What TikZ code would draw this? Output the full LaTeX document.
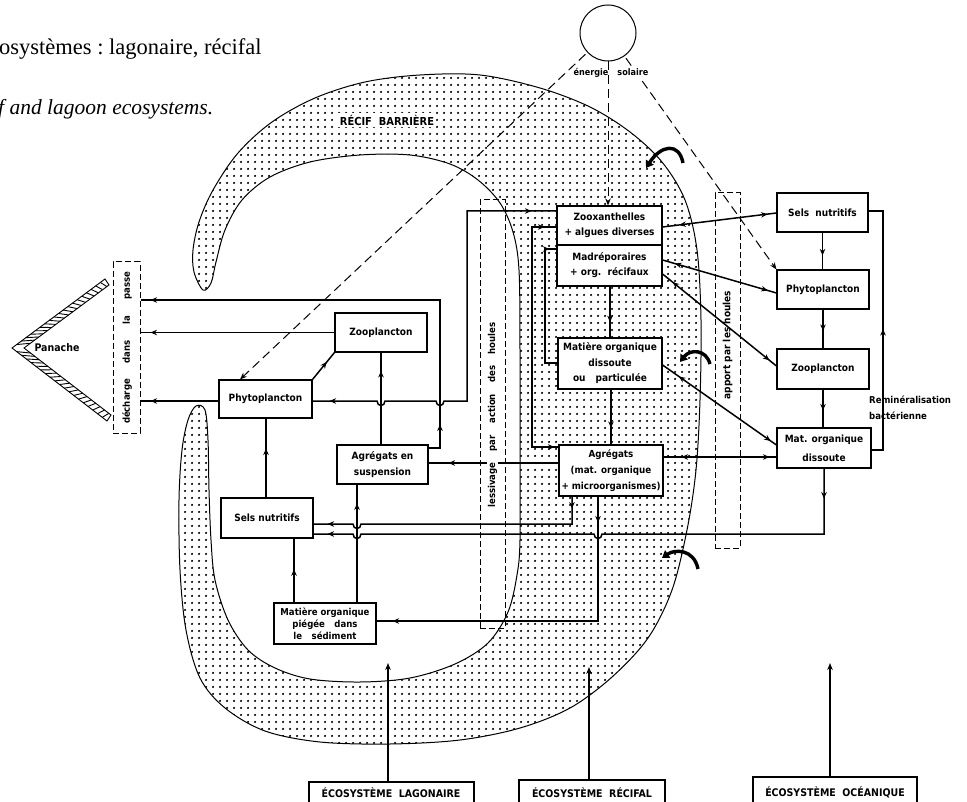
\documentclass[tikz,border=0pt]{standalone}
\usepackage{fontspec}
\newfontfamily\lab{DejaVu Sans Condensed}
\newfontfamily\ser{Liberation Serif}
\usetikzlibrary{arrows.meta,patterns.meta,decorations.markings,calc}
\tikzdeclarepattern{
  name=reefdots,
  type=uncolored,
  bottom left={(0pt,0pt)},
  top right={(7pt,7pt)},
  tile size={(7pt,7pt)},
  code={\fill (3.5pt,3.5pt) circle (1.3pt);}
}
\tikzset{
  box/.style={draw, line width=1.1pt, fill=white, inner sep=1pt, align=center,
    font=\lab\bfseries\fontsize{10}{15}\selectfont},
  ln/.style={line width=1.5pt},
  sundash/.style={line width=1pt, dash pattern=on 9pt off 5pt},
  dbox/.style={draw, line width=1pt, dash pattern=on 6pt off 3pt},
  fwd/.style={postaction={decorate, decoration={markings,
    mark=at position #1 with {\arrow{Stealth[length=6.5pt,width=5.5pt]}}}}},
  bwd/.style={postaction={decorate, decoration={markings,
    mark=at position #1 with {\arrowreversed{Stealth[length=6.5pt,width=5.5pt]}}}}},
  lbl/.style={font=\lab\bfseries\fontsize{9.5}{11}\selectfont},
  eco/.style={font=\lab\bfseries\fontsize{10.5}{12}\selectfont, inner sep=1pt},
  swell/.style={line width=3.4pt, -{Triangle[length=7pt,width=9pt]}},
  upar/.style={ln, -{Stealth[length=7pt,width=5.5pt]}}
}
\begin{document}
\begin{tikzpicture}[x=1pt,y=-1pt]
\useasboundingbox (0,0) rectangle (967,802);

% ---------- reef band ----------
\path[pattern=reefdots, draw, line width=1pt] plot[smooth cycle, tension=0.55] coordinates {
 (203,290) (194,272) (193,250) (199,222) (213,190) (238,153) (272,122) (315,98)
 (365,82) (420,75) (480,75) (540,88) (590,107) (630,132) (662,162) (685,200)
 (697,250) (701,320) (700,400) (696,470) (687,530) (672,590) (648,638) (612,677)
 (570,708) (520,728) (460,740) (390,744) (320,742) (265,731) (225,708) (200,678)
 (186,630) (180,570) (179,500) (182,450) (188,420) (196,406)
 (205,410) (208,440) (209,490) (211,540) (215,580) (228,620) (248,650) (275,668)
 (310,679) (360,682) (410,678) (455,664) (488,643) (508,612) (517,575) (520,540)
 (520,450) (520,350) (519,270) (513,232) (500,203) (478,180) (450,164) (410,155)
 (360,155) (310,162) (270,177) (242,200) (225,230) (216,262) (211,283)};
\node[lbl, fill=white, inner sep=2pt, font=\lab\bfseries\fontsize{11}{12}\selectfont] (rb) at (387,120) {RÉCIF\ \ BARRIÈRE};

% ---------- top text ----------
\node[anchor=base west, inner sep=0, font=\ser\fontsize{22.5}{26}\selectfont] (t1) at (-1,55) {osystèmes :\ lagonaire,\ récifal};
\node[anchor=base west, inner sep=0, font=\ser\itshape\fontsize{21.5}{24}\selectfont] (t2) at (-2,115) {f and lagoon ecosystems.};

% ---------- sun ----------
\node[circle, draw, line width=1pt, minimum size=56pt, inner sep=0] (sun) at (608,33) {};

% ---------- boxes ----------
\node[box, minimum width=92pt, minimum height=39pt] (zl) at (381,332.5) {Zooplancton};
\node[box, minimum width=93pt, minimum height=38pt] (pl) at (265.5,399) {Phytoplancton};
\node[box, minimum width=91pt, minimum height=39pt, font=\lab\bfseries\fontsize{10}{16}\selectfont] (al) at (382.5,464.5) {Agrégats en\\suspension};
\node[box, minimum width=92pt, minimum height=40pt] (sl) at (267,518) {Sels nutritifs};
\node[box, minimum width=102pt, minimum height=41pt, font=\lab\bfseries\fontsize{9.5}{12}\selectfont] (ml) at (325,623.5) {Matière organique\\piégée\quad dans\\le\quad sédiment};
\node[box, minimum width=105pt, minimum height=39pt] (zx) at (609.5,225.5) {Zooxanthelles\\+ algues diverses};
\node[box, minimum width=105pt, minimum height=41pt] (md) at (609.5,265.5) {Madréporaires\\+ org.\ \ récifaux};
\node[box, minimum width=104pt, minimum height=51pt, font=\lab\bfseries\fontsize{10}{15.5}\selectfont] (mo) at (610,363.5) {Matière organique\\dissoute\\ou\quad particulée};
\node[box, minimum width=104pt, minimum height=51pt, font=\lab\bfseries\fontsize{9.7}{16}\selectfont] (ag) at (611,470.5) {Agrégats\\(mat. organique\\+ microorganismes)};
\node[box, minimum width=91pt, minimum height=39pt] (so) at (822.5,212.5) {Sels\ \ nutritifs};
\node[box, minimum width=92pt, minimum height=39pt] (po) at (823,289.5) {Phytoplancton};
\node[box, minimum width=92pt, minimum height=40pt] (zo) at (823,369) {Zooplancton};
\node[box, minimum width=94pt, minimum height=40pt, font=\lab\bfseries\fontsize{10}{19}\selectfont] (mo2) at (824,448) {Mat. organique\\dissoute};

% ---------- dashed boxes ----------
\node[dbox, minimum width=27pt, minimum height=171pt, inner sep=0] (dc) at (126.5,347.5) {};
\node[dbox, minimum width=25pt, minimum height=428pt, inner sep=0] (lv) at (492.5,414) {};
\node[dbox, minimum width=25pt, minimum height=355pt, inner sep=0] (ap) at (727.5,370.5) {};
\node[lbl, rotate=90] (dct) at (127,348) {\makebox[152pt][s]{décharge\hfill dans\hfill la\hfill passe}};
\node[lbl, rotate=90, font=\lab\bfseries\fontsize{10}{11}\selectfont] (apt) at (727.5,345) {apport\ par\ les\ houles};

% ---------- panache ----------
\coordinate (T) at (12,348);  \coordinate (O1) at (105,279); \coordinate (O2) at (107,421);
\coordinate (Ti) at (24,348); \coordinate (I1) at (109,285); \coordinate (I2) at (111,415);
\draw[line width=0.9pt] (O1) -- (T) -- (O2) -- (I2) -- (Ti) -- (I1) -- cycle;
\foreach \t in {0.05,0.1,...,0.96} {
  \draw[line width=0.9pt] ($(T)!\t!(O1)$) -- ($(Ti)!\t+0.025!(I1)$);
  \draw[line width=0.9pt] ($(T)!\t!(O2)$) -- ($(Ti)!\t+0.025!(I2)$);
}
\node[lbl, font=\lab\bfseries\fontsize{10.5}{11}\selectfont] (pn) at (57,348) {Panache};

% ---------- solar energy ----------
\draw[sundash, -{Stealth[length=7pt,width=5.5pt]}, shorten <=31pt] (sun.center) -- (pl.north -| 240,0);
\draw[sundash, -{Stealth[length=7pt,width=5.5pt]}, shorten <=31pt] (sun.center) -- (po.north west);
\node[lbl, fill=white, inner sep=1pt, font=\lab\bfseries\fontsize{9}{10}\selectfont] (es) at (611,73) {énergie\hspace{9pt}solaire};
\draw[sundash, -{Stealth[length=7pt,width=5.5pt]}] (sun.south) -- (sun.south |- zx.north);

% ---------- oceanic ecosystem ----------
\draw[ln, fwd=0.62] (so.south) -- (so.south |- po.north);
\draw[ln, fwd=0.55] (po.south) -- (po.south |- zo.north);
\draw[ln, fwd=0.55] (zo.south) -- (zo.south |- mo2.north);
\draw[ln, fwd=0.5] (mo2.east |- 0,450) -- (883,450) -- (883,211) -- (so.east |- 0,211);
\node[lbl, anchor=north west, align=left, font=\lab\bfseries\fontsize{9.5}{16}\selectfont, inner sep=0] (rem) at (869,396) {Reminéralisation\\bactérienne};

% ---------- reef <-> ocean exchanges ----------
\draw[ln, fwd=-9pt, bwd=17pt] (zx.east |- 0,227) -- (so.west |- 0,213);
\draw[ln, fwd=-9pt, bwd=13pt] (md.east |- 0,260) -- (po.west |- 0,293);
\draw[ln, fwd=-9pt, bwd=13pt] (md.east |- 0,274) -- (zo.west |- 0,366);
\draw[ln, fwd=-7pt, bwd=20pt] (mo.east |- 0,365) -- (mo2.west |- 0,445);
\draw[ln, fwd=-7pt, bwd=18pt] (ag.east |- 0,457) -- (mo2.west |- 0,457);

% ---------- reef internal ----------
\draw[ln, fwd=0.7] (md.south -| 610,0) -- (mo.north -| 610,0);
\draw[ln, fwd=0.7] (mo.south -| 611,0) -- (ag.north -| 611,0);
\draw[ln, bwd=12pt, fwd=-4pt] (zx.west |- 0,227) -- (532,227) -- (532,447) -- (ag.west |- 0,447);
\draw[ln, bwd=7pt] (md.west |- 0,249) -- (545,249) -- (545,363) -- (mo.west |- 0,363);

% reef -> lagoon
\draw[ln, bwd=25pt, fwd=-17pt] (zx.west |- 0,211) -- (467,211) -- (467,401) -- (444,401)
  .. controls (444,407) and (436,407) .. (436,401) -- (385,401)
  .. controls (385,407) and (377,407) .. (377,401) -- (pl.east |- 0,401);
\draw[ln, fwd=-20pt] (ag.west |- 0,463) -- (al.east |- 0,463);
\draw[ln, fwd=12pt, fwd=-14pt] (ag.south -| 572,0) -- (572,524) -- (361,524)
  .. controls (361,530) and (353,530) .. (353,524) -- (sl.east |- 0,524);
\draw[ln, fwd=26pt, fwd=-16pt] (ag.south -| 598,0) -- (598,621) -- (ml.east |- 0,621);
\draw[ln, fwd=30pt, fwd=-14pt] (mo2.south) -- (mo2.south |- 0,534) -- (602,534)
  .. controls (602,540) and (594,540) .. (594,534) -- (361,534)
  .. controls (361,540) and (353,540) .. (353,534) -- (sl.east |- 0,534);

% ---------- lagoon ecosystem ----------
\draw[ln, fwd=0.8] (al.north -| 381,0) -- (zl.south -| 381,0);
\draw[ln, fwd=35pt, fwd=-10pt] (al.east |- 0,448) -- (440,448) -- (440,300) -- (dc.east |- 0,300);
\draw[ln, fwd=-10pt] (zl.west) -- (zl.west -| dc.east);
\draw[ln, fwd=-10pt] (pl.west |- 0,401) -- (dc.east |- 0,401);
\draw[ln, fwd=0.65] (pl.north east) -- (zl.south west);
\draw[ln, fwd=0.62] (sl.north -| 266,0) -- (pl.south -| 266,0);
\draw[ln, fwd=0.52] (ml.north -| 294,0) -- (sl.south -| 294,0);
\draw[ln, fwd=0.84] (ml.north -| 357,0) -- (al.south -| 357,0);

% lessivage text over the line
\node[lbl, rotate=90, fill=white, inner sep=0.5pt] (lvt) at (492.5,415) {\makebox[185pt][s]{lessivage\hfill par\hfill action\hfill des\hfill houles}};

% ---------- swell arrows ----------
\draw[swell] (683,163) .. controls (679,142) and (661,145) .. (646,168);
\draw[swell] (710,364) .. controls (706,349) and (690,349) .. (680,362);
\draw[swell] (698,569) .. controls (694,549) and (675,549) .. (662,558);

% ---------- ecosystem labels ----------
\node[eco] (el) at (391,793) {ÉCOSYSTÈME\ \ LAGONAIRE};
\draw[line width=1.1pt] (309,802) -- (309,782) -- (474,782) -- (474,802);
\coordinate (elt) at (388,663);
\draw[upar] (elt |- 0,782) -- (elt);

\node[eco] (er) at (592,793) {ÉCOSYSTÈME\ \ RÉCIFAL};
\draw[line width=1.1pt] (519,802) -- (519,780) -- (665,780) -- (665,802);
\coordinate (ert) at (589,667);
\draw[upar] (ert |- 0,780) -- (ert);

\node[eco] (eo) at (835,792) {ÉCOSYSTÈME\ \ OCÉANIQUE};
\draw[line width=1.1pt] (753,802) -- (753,777) -- (917,777) -- (917,802);
\coordinate (eot) at (830,663);
\draw[upar] (eot |- 0,777) -- (eot);
\end{tikzpicture}
\end{document}
